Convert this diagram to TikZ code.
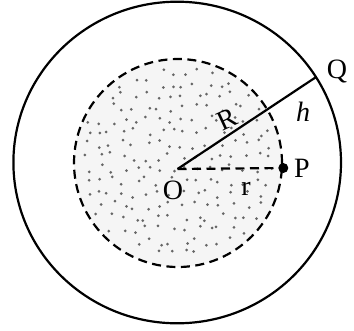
\documentclass[tikz,border=0pt]{standalone}
\usepackage{fontspec}
\setmainfont{Liberation Serif}
\begin{document}
\begin{tikzpicture}[x=1pt,y=-1pt,
  lbl/.style={font=\fontsize{28}{32}\selectfont, inner sep=0pt},
  dotc/.style={fill=black!60},
  dash9/.style={line width=2.2pt, dash pattern=on 9pt off 5.5pt}]
\useasboundingbox (0,0) rectangle (354,330);
% shaded inner sphere
\fill[black!4] (178,163) circle (104pt);
\pgfmathsetseed{11}
\foreach \i in {0,...,17}{
  \foreach \j in {0,...,17}{
    \pgfmathsetmacro\px{74+\i*12.2+rand*4.5}
    \pgfmathsetmacro\py{59+\j*12.2+rand*4.5}
    \pgfmathsetmacro\dd{((\px-178)/10)^2+((\py-163)/10)^2}
    \ifdim\dd pt<98pt \fill[dotc] (\px,\py) circle (1.5pt); \fi
  }
}
% outer circle
\draw[line width=2.2pt] (177.2,162.5) ellipse [x radius=163.8pt, y radius=160.8pt];
% dashed circle
\draw[dash9] (178,163) circle (104pt);
% points
\coordinate (O) at (177.5,169);
\coordinate (Q) at (315.7,77.3);
\coordinate (P) at (283.3,168);
\draw[line width=2.2pt] (O) -- (Q);
\draw[dash9] (O) -- (P);
\fill (P) circle (5pt);
% labels
\node[lbl] (lQ) at (337,71) {Q};
\node[lbl] (lh) at (303,112) {\itshape h};
\node[lbl, rotate=25] (lR) at (227,119) {R};
\node[lbl] (lP) at (302,168) {P};
\node[lbl] (lO) at (173,190) {O};
\node[lbl] (lr) at (246,189) {r};
\end{tikzpicture}
\end{document}
